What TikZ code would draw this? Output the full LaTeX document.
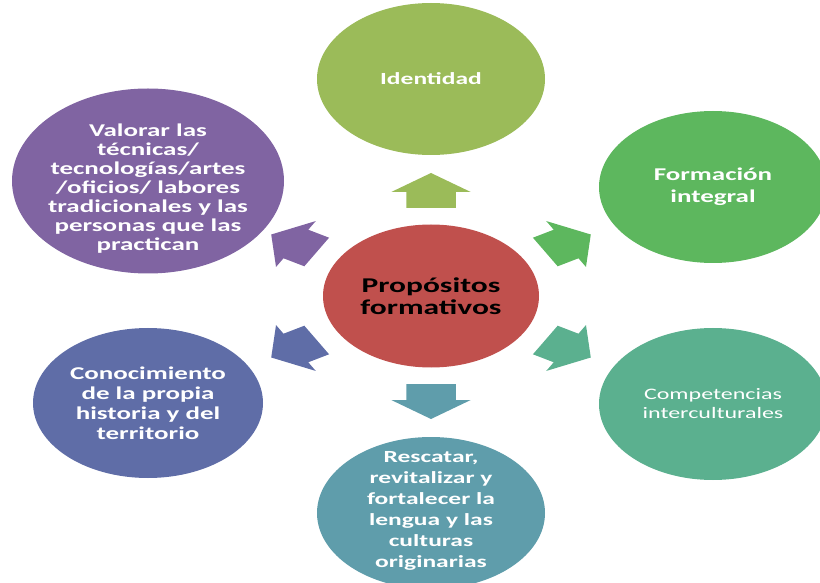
\documentclass[tikz,border=0pt]{standalone}
\usepackage{fontspec}
\setmainfont{Carlito}[FakeStretch=1.5]
\usetikzlibrary{shapes.geometric}
\definecolor{cred}{HTML}{C0504D}
\definecolor{colive}{HTML}{9BBB59}
\definecolor{cgreen}{HTML}{5DB75E}
\definecolor{cteal}{HTML}{5BB08F}
\definecolor{cblue}{HTML}{5F9DAB}
\definecolor{cindigo}{HTML}{5F6DA7}
\definecolor{cpurple}{HTML}{8064A2}
\begin{document}
\begin{tikzpicture}[x=1pt,y=1pt,
  blob/.style={ellipse,inner sep=0pt,draw=none},
  lbl/.style={text=white,align=center,inner sep=0pt},
  blockarrow/.style={shift={(431,286)},xscale=1.5}]
\useasboundingbox (0,0) rectangle (820,582);
% ellipses
\node[blob,fill=cred,minimum width=216pt,minimum height=143pt] (c) at (431,286) {};
\node[blob,fill=colive,minimum width=228pt,minimum height=152pt] (e1) at (431,503) {};
\node[blob,fill=cgreen,minimum width=228pt,minimum height=152pt] (e2) at (713,395) {};
\node[blob,fill=cteal,minimum width=228pt,minimum height=152pt] (e3) at (713,178) {};
\node[blob,fill=cblue,minimum width=228pt,minimum height=152pt] (e4) at (431,69) {};
\node[blob,fill=cindigo,minimum width=230pt,minimum height=150pt] (e5) at (148,179) {};
\node[blob,fill=cpurple,minimum width=272pt,minimum height=185pt] (e6) at (148,401) {};
% arrows
\foreach \a/\col in {90/colive,30/cgreen,-30/cteal,-90/cblue,-150/cindigo,150/cpurple}{
  \fill[\col,blockarrow,rotate=\a] (88,-16.5) -- (104,-16.5) -- (104,-26.5) -- (123,0)
     -- (104,26.5) -- (104,16.5) -- (88,16.5) -- cycle;
}
% texts
\node[align=center,inner sep=0pt,text=black,font=\bfseries\fontsize{21}{22}\selectfont] (tc) at (c.center) {Propósitos\\formativos};
\node[lbl,font=\bfseries\fontsize{17}{21}\selectfont] (t1) at (e1.center) {Identidad};
\node[lbl,font=\bfseries\fontsize{18}{22}\selectfont] (t2) at (e2.center) {Formación\\integral};
\node[lbl,font=\fontsize{16}{19}\selectfont] (t3) at (e3.center) {Competencias\\interculturales};
\node[lbl,font=\bfseries\fontsize{17}{21}\selectfont] (t4) at (431,71) {Rescatar,\\revitalizar y\\fortalecer la\\lengua y las\\culturas\\originarias};
\node[lbl,font=\bfseries\fontsize{18}{20}\selectfont] (t5) at (e5.center) {Conocimiento\\de la propia\\historia y del\\territorio};
\node[lbl,font=\bfseries\fontsize{18}{19}\selectfont] (t6) at (148,393) {Valorar las\\técnicas/\\tecnologías/artes\\/oficios/ labores\\tradicionales y las\\personas que las\\practican};
\end{tikzpicture}
\end{document}
